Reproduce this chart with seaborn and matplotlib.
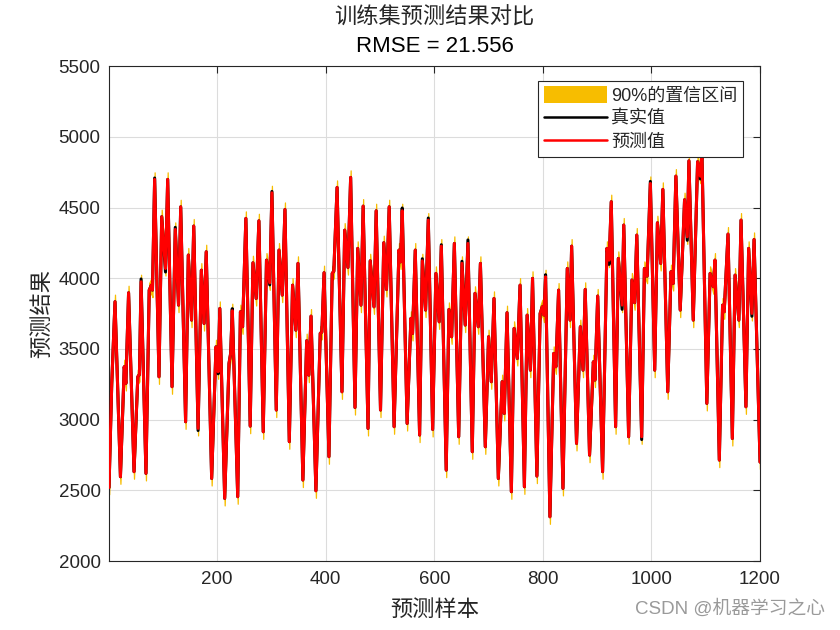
import matplotlib
matplotlib.use("Agg")
import numpy as np
import pandas as pd
import seaborn as sns
import matplotlib.pyplot as plt
from matplotlib.patches import Patch
from matplotlib.lines import Line2D

# ---------------- data (extrema of the series) ----------------
sample_idx = [1, 6, 12, 22, 29, 32, 37, 47, 54, 57, 60, 69, 75, 79, 81, 85, 93, 98, 105, 109,
              117, 123, 129, 133, 142, 147, 153, 157, 165, 171, 176, 180, 190, 198, 202, 205,
              214, 222, 225, 228, 238, 243, 247, 253, 261, 266, 272, 277, 285, 291, 297, 301,
              309, 314, 320, 325, 333, 339, 345, 349, 358, 365, 369, 373, 382, 390, 393, 397,
              406, 412, 415, 421, 430, 435, 441, 446, 454, 459, 465, 469, 478, 482, 489, 493,
              501, 507, 512, 517, 526, 535, 538, 541, 550, 557, 560, 565, 573, 578, 584, 589,
              597, 603, 609, 613, 622, 627, 632, 637, 645, 651, 657, 662, 670, 675, 681, 685,
              694, 700, 705, 710, 718, 725, 729, 734, 742, 747, 753, 758, 766, 771, 777, 781,
              789, 795, 799, 802, 805, 813, 820, 824, 829, 837, 845, 850, 853, 862, 869, 874,
              878, 886, 893, 896, 901, 910, 918, 922, 926, 934, 939, 946, 949, 958, 964, 969,
              973, 982, 987, 992, 998, 1006, 1011, 1017, 1021, 1030, 1036, 1040, 1045, 1053,
              1061, 1066, 1069, 1077, 1085, 1090, 1093, 1102, 1108, 1114, 1117, 1125, 1131,
              1134, 1141, 1149, 1154, 1161, 1165, 1174, 1179, 1185, 1189, 1200]

predicted = [2520, 3256, 3834, 2596, 3374, 3256, 3897, 2632, 3303, 3320, 3975, 2620, 3916, 3951,
             3916, 4699, 3303, 4435, 4069, 4699, 3233, 4345, 3810, 4505, 2985, 4164, 3704, 4369,
             2938, 4057, 3680, 4187, 2584, 3515, 3339, 3786, 2443, 3398, 3468, 3770, 2455, 3763,
             3657, 4423, 2954, 4109, 3857, 4406, 2914, 4128, 3968, 4604, 3068, 4199, 3881, 4486,
             2844, 3951, 3633, 4105, 2573, 3558, 3315, 3732, 2497, 3610, 3620, 4039, 2738, 4034,
             4050, 4642, 3197, 4340, 4076, 4713, 3086, 4211, 3810, 4510, 2938, 4123, 3798, 4477,
             3068, 4251, 3921, 4505, 2950, 4199, 4116, 4477, 2973, 3716, 3610, 4199, 2891, 4123,
             3775, 4411, 2931, 4034, 3692, 4227, 2643, 3779, 3586, 4246, 2879, 4105, 3669, 4246,
             2773, 3893, 3657, 4105, 2808, 3586, 3268, 3857, 2584, 3268, 3044, 3756, 2490, 3645,
             3433, 3951, 2525, 3739, 3350, 3999, 2601, 3751, 3798, 3740, 4010, 2313, 3468, 3374,
             3916, 2514, 4069, 3704, 4227, 2832, 3657, 3350, 3921, 2749, 3409, 3280, 3874, 2632,
             4211, 4128, 4541, 2950, 4140, 3810, 4376, 2879, 3987, 3827, 4305, 2879, 4069, 4015,
             4670, 3350, 4392, 4105, 4628, 3197, 4046, 3963, 4722, 3775, 4555, 4293, 4830, 3704,
             4824, 4722, 4880, 3115, 4034, 3940, 4128, 2714, 3810, 3763, 4312, 2867, 4022, 3704,
             4411, 3091, 4211, 3751, 4274, 2700]

# where the true value differs visibly from the prediction (sample -> difference)
actual_deviation = {60: 20, 85: 10, 105: -25, 123: 15, 165: -15, 202: -15, 228: 15,
                    297: -15, 301: 10, 541: 20, 578: 15, 589: 15, 613: 10, 651: 15,
                    662: 25, 805: 15, 922: -30, 946: -30, 982: -20, 998: 15,
                    1066: -25, 1090: -20, 1185: -20}

band_half_width = 50

x_ticks = [200, 400, 600, 800, 1000, 1200]
y_ticks = [2000, 2500, 3000, 3500, 4000, 4500, 5000, 5500]

df = pd.DataFrame({"sample": sample_idx, "pred": predicted})
df["true"] = df["pred"] + df["sample"].map(actual_deviation).fillna(0)
df["lower"] = df["pred"] - band_half_width
df["upper"] = df["pred"] + band_half_width

# ---------------- style ----------------
sns.set_style("white")
plt.rcParams['font.family'] = ['Liberation Sans', 'Noto Sans CJK SC', 'DejaVu Sans']
plt.rcParams['axes.unicode_minus'] = False

band_color = '#F7BD00'
dark = '#262626'

fig = plt.figure(figsize=(8.4, 6.3), dpi=100)
ax = fig.add_axes([0.1298, 0.1095, 0.775, 0.7855])

ax.fill_between(df["sample"], df["lower"], df["upper"], facecolor=band_color,
                edgecolor=band_color, linewidth=0.9, zorder=2)
sns.lineplot(data=df, x="sample", y="true", ax=ax, color='black', linewidth=2.2,
             estimator=None, sort=False, zorder=3)
sns.lineplot(data=df, x="sample", y="pred", ax=ax, color='#FF0000', linewidth=2.2,
             estimator=None, sort=False, zorder=4)

ax.set_xlim(1, 1200)
ax.set_ylim(2000, 5500)
ax.set_xticks(x_ticks)
ax.set_yticks(y_ticks)
ax.tick_params(direction='in', length=5, width=0.8, colors=dark, labelsize=13.5,
               top=True, right=True, labeltop=False, labelright=False)
ax.tick_params(axis='x', pad=7)
ax.tick_params(axis='y', pad=6)
ax.grid(True, color='#DCDCDC', linewidth=0.8)
ax.set_axisbelow(True)
for s in ax.spines.values():
    s.set_color(dark)
    s.set_linewidth(0.8)

ax.set_xlabel("预测样本", fontsize=16, color=dark, labelpad=9)
ax.set_ylabel("预测结果", fontsize=16, color=dark, labelpad=4)

cx = 0.5 * (0.1298 + 0.9048)
fig.text(cx, 1 - 18 / 630, "训练集预测结果对比", ha='center', va='center',
         fontsize=16, color=dark)
fig.text(cx, 1 - 47 / 630, "RMSE = 21.556", ha='center', va='center',
         fontsize=16, color='black')

handles = [Patch(facecolor=band_color, edgecolor='none', label='90%的置信区间'),
           Line2D([], [], color='black', linewidth=1.8, label='真实值'),
           Line2D([], [], color='#FF0000', linewidth=1.8, label='预测值')]
leg = ax.legend(handles=handles, loc='upper right', bbox_to_anchor=(0.974, 0.970),
                borderaxespad=0, fontsize=13, frameon=True, fancybox=False,
                edgecolor=dark, framealpha=1, handlelength=3.5, handleheight=1.0,
                handletextpad=0.25, labelspacing=0.28, borderpad=0.3)
leg.get_frame().set_linewidth(0.8)
leg.set_zorder(10)

fig.text(0.982, 1 - 609 / 630, "CSDN @机器学习之心", ha='right', va='center',
         fontsize=13.5, color='#9A9A9A')

fig.savefig("out.png", dpi=100, facecolor='white')
